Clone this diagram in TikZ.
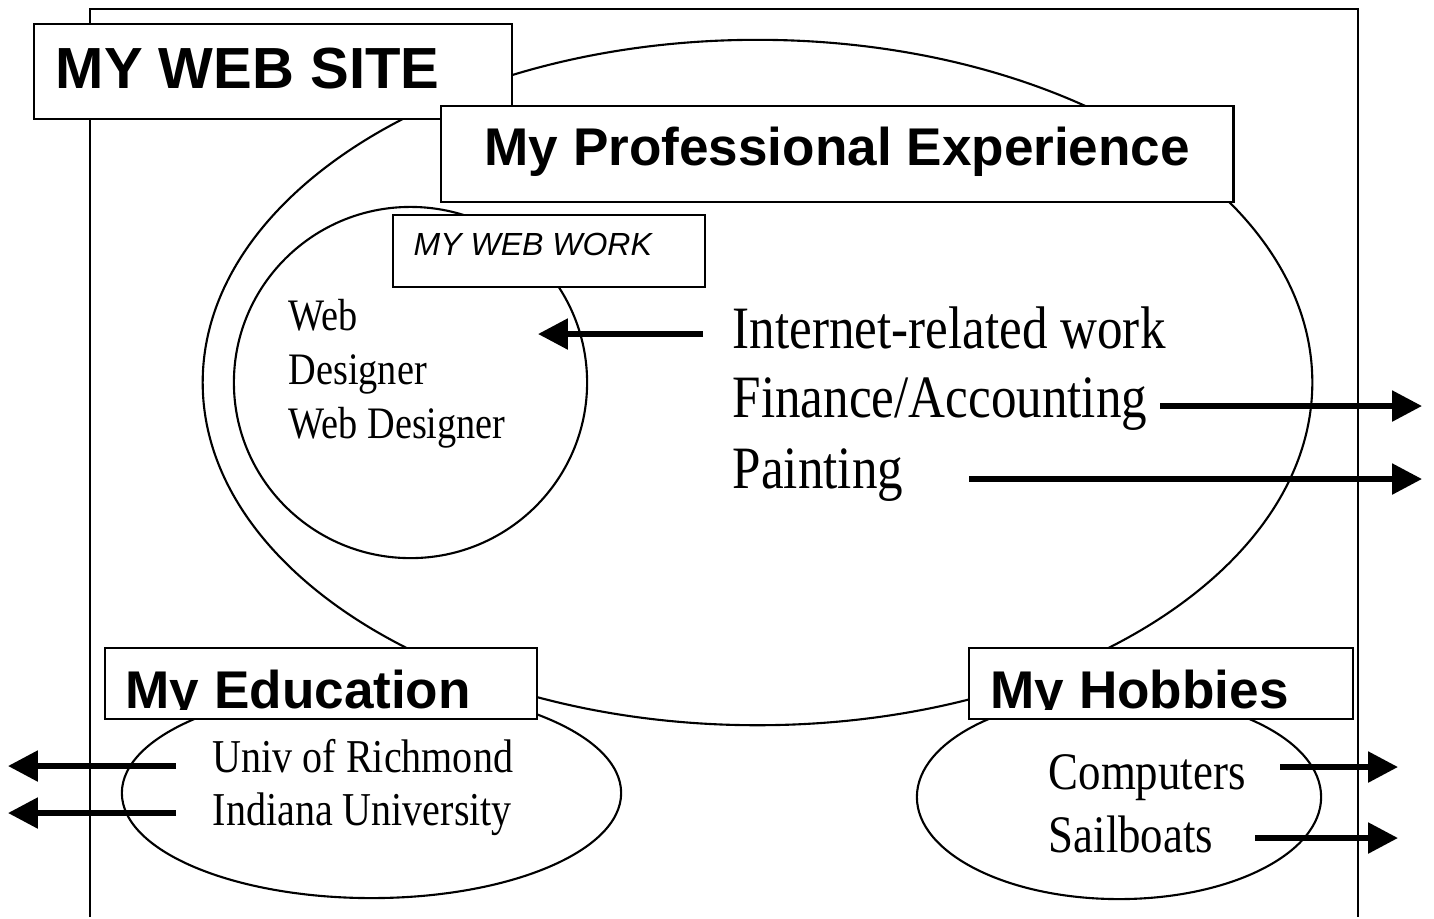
\documentclass[tikz,border=0pt]{standalone}
\usepackage{fontspec}
\setmainfont{Liberation Serif}
\newfontfamily\headsans{Liberation Sans}
\newfontfamily\narrowserif[FakeStretch=0.85]{Liberation Serif}
\usepackage{tikz}
\usetikzlibrary{arrows.meta,shapes.geometric}

\begin{document}
\begin{tikzpicture}[x=0.01cm,y=-0.01cm,
	titlebox/.style={rectangle,draw,fill=white,line width=0.6pt,anchor=north west,inner sep=0pt},
	bubble/.style={ellipse,draw,line width=0.6pt,inner sep=0pt},
	sitetext/.style={anchor=base west,inner sep=0pt,font=\headsans\bfseries\fontsize{16.5}{19}\selectfont},
	headtext/.style={anchor=base west,inner sep=0pt,font=\headsans\bfseries\fontsize{15.1}{18}\selectfont},
	worktext/.style={anchor=base west,inner sep=0pt,font=\headsans\itshape\fontsize{9.1}{11}\selectfont},
	itemtext/.style={anchor=base west,inner sep=0pt,font=\narrowserif\fontsize{17.1}{20}\selectfont},
	smalltext/.style={anchor=base west,inner sep=0pt,font=\narrowserif\fontsize{12.8}{15}\selectfont},
	schooltext/.style={anchor=base west,inner sep=0pt,font=\narrowserif\fontsize{13.4}{16}\selectfont},
	hobbytext/.style={anchor=base west,inner sep=0pt,font=\narrowserif\fontsize{15}{18}\selectfont},
	bigarrow/.style={-{Triangle[length=8.5pt,width=8.5pt]},line width=1.6pt}]
	
	\fill [white] (0,0) rectangle (1434,917);
	\draw [line width=0.7pt] (90,917) -- (90,9) -- (1358,9) -- (1358,917);
	
	\node [bubble, minimum width=11.09cm, minimum height=6.85cm] (prof) at (757.5,382.5) {};
	\node [bubble, minimum width=3.53cm, minimum height=3.51cm] (web) at (410.5,382.5) {};
	\node [bubble, minimum width=4.99cm, minimum height=2.10cm] (edu) at (371.5,793) {};
	\node [bubble, minimum width=4.04cm, minimum height=2.04cm] (hobby) at (1119,797) {};
	
	\node [titlebox, minimum width=4.78cm, minimum height=0.95cm] (sitebox) at (33,23) {};
	\node [titlebox, minimum width=7.92cm, minimum height=0.96cm] (profbox) at (440,105) {};
	\node [titlebox, minimum width=3.12cm, minimum height=0.72cm] (workbox) at (392,214) {};
	\node [titlebox, minimum width=4.32cm, minimum height=0.71cm] (edubox) at (104,647) {};
	\node [titlebox, minimum width=3.84cm, minimum height=0.71cm] (hobbybox) at (968,647) {};
	
	\node [sitetext] (site) at (55,88) {MY WEB SITE};
	\node [headtext] (profhead) at (484,165) {My Professional Experience};
	\node [worktext] (workhead) at (413,255) {MY WEB WORK};
	\begin{scope}
		\clip (104,647) rectangle (536,709);
		\node [headtext] (eduhead) at (125,708) {My Education};
	\end{scope}
	\begin{scope}
		\clip (968,647) rectangle (1352,709);
		\node [headtext] (hobbyhead) at (990,708) {My Hobbies};
	\end{scope}
	
	\node [smalltext] (web1) at (288,330) {Web};
	\node [smalltext] (web2) at (288,384) {Designer};
	\node [smalltext] (web3) at (288,438) {Web Designer};
	\node [itemtext] (inet) at (732,348) {Internet-related work};
	\node [itemtext] (fin) at (732,417) {Finance/Accounting};
	\node [itemtext] (paint) at (732,488) {Painting};
	\node [schooltext] (rich) at (212,772) {Univ of Richmond};
	\node [schooltext] (iu) at (212,825) {Indiana University};
	\node [hobbytext] (comp) at (1048,789) {Computers};
	\node [hobbytext] (sail) at (1048,852) {Sailboats};
	
	\coordinate (inetfrom) at (703,334);
	\coordinate (inetto) at (538,334);
	\coordinate (finfrom) at (1160,406);
	\coordinate (finto) at (1422,406);
	\coordinate (paintfrom) at (969,479);
	\coordinate (paintto) at (1422,479);
	\coordinate (richfrom) at (176,766);
	\coordinate (richto) at (8,766);
	\coordinate (iufrom) at (176,813);
	\coordinate (iuto) at (8,813);
	\coordinate (compfrom) at (1280,767);
	\coordinate (compto) at (1398,767);
	\coordinate (sailfrom) at (1255,838);
	\coordinate (sailto) at (1398,838);
	
	\draw [bigarrow] (inetfrom) -- (inetto);
	\draw [bigarrow] (finfrom) -- (finto);
	\draw [bigarrow] (paintfrom) -- (paintto);
	\draw [bigarrow] (richfrom) -- (richto);
	\draw [bigarrow] (iufrom) -- (iuto);
	\draw [bigarrow] (compfrom) -- (compto);
	\draw [bigarrow] (sailfrom) -- (sailto);
\end{tikzpicture}
\end{document}
